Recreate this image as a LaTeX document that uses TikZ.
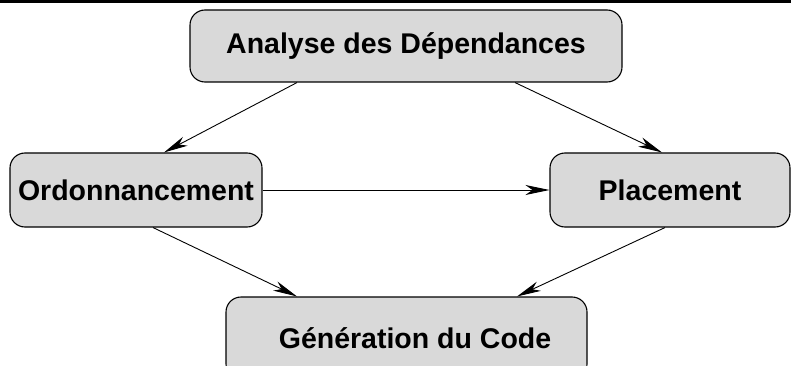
\documentclass[tikz,border=0pt]{standalone}
\usepackage{fontspec}
\setmainfont{Liberation Sans}
\usetikzlibrary{arrows.meta}
\definecolor{boxfill}{RGB}{217,217,217}
\begin{document}
\begin{tikzpicture}[x=1pt,y=-1pt,
  procbox/.style={draw=black, line width=1.1pt, fill=boxfill, rounded corners=15pt,
    inner sep=0pt, font=\fontsize{28.5}{34}\selectfont\bfseries},
  flow/.style={line width=0.9pt, -{Stealth[length=24pt,width=10pt,inset=7pt]}}]
\useasboundingbox (0,0) rectangle (791,366);
\fill[black] (0,0) rectangle (791,2.7);
\node[procbox, minimum width=432pt, minimum height=72pt] (ana) at (406,46) {Analyse des Dépendances};
\node[procbox, minimum width=252pt, minimum height=74pt] (ord) at (136,190) {Ordonnancement};
\node[procbox, minimum width=240pt, minimum height=74pt] (pla) at (670,190) {Placement};
\node[procbox, minimum width=361pt, minimum height=82pt] (gen) at (406.5,338) {\hspace*{17pt}Génération du Code};
\draw[flow] ([xshift=-109pt]ana.south) -- ([xshift=28pt]ord.north);
\draw[flow] ([xshift=109pt]ana.south) -- ([xshift=-8pt]pla.north);
\draw[flow] (ord.east) -- (pla.west);
\draw[flow] ([xshift=17pt]ord.south) -- ([xshift=-109.5pt]gen.north);
\draw[flow] ([xshift=-5pt]pla.south) -- ([xshift=110.5pt]gen.north);
\end{tikzpicture}
\end{document}
